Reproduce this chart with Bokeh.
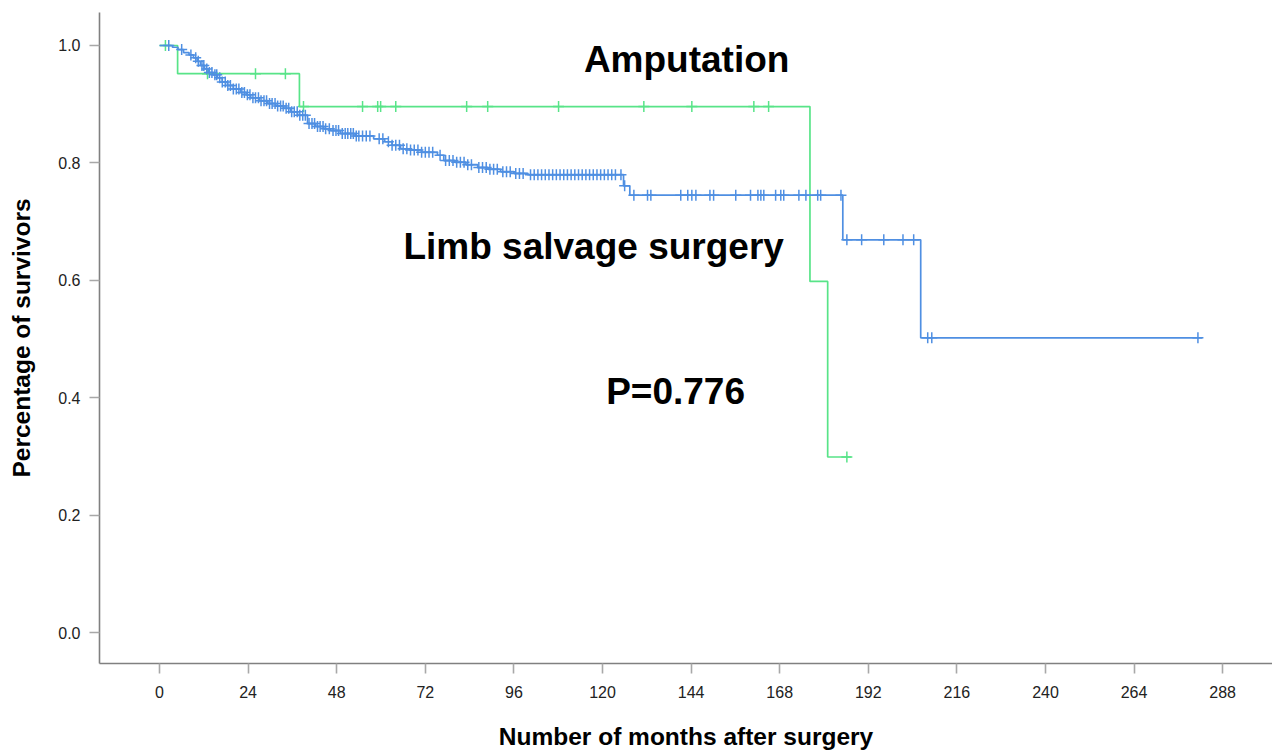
import numpy as np
from bokeh.plotting import figure
from bokeh.models import Range1d, FixedTicker, PrintfTickFormatter, Label
from bokeh.embed import file_html
from bokeh.resources import INLINE

# ---------------- data ----------------
# Limb salvage surgery (blue): step times (months) and survival after each step
limb_times = [0, 3.5, 5, 6.5, 8, 9.2, 10.2, 11.1, 12.2, 13.3, 14.5, 15.7, 17, 18.4, 20, 22,
              23.5, 24.7, 27, 29.3, 31.5, 33.6, 35.5, 37.4, 40.1, 42.3, 44.5, 46.3, 49, 53,
              58, 61, 63, 65.3, 68, 71, 75.3, 77, 80, 83, 86.2, 89, 92.4, 96, 99.7, 125.7,
              127.4, 185.1, 206.2]
limb_surv = [1.0, 0.997, 0.993, 0.988, 0.984, 0.979, 0.973, 0.966, 0.960, 0.954, 0.950,
             0.945, 0.938, 0.932, 0.926, 0.920, 0.916, 0.911, 0.906, 0.901, 0.897, 0.893,
             0.887, 0.881, 0.867, 0.862, 0.858, 0.855, 0.850, 0.846, 0.841, 0.836, 0.830,
             0.824, 0.822, 0.818, 0.813, 0.804, 0.801, 0.797, 0.792, 0.789, 0.785, 0.782,
             0.780, 0.761, 0.745, 0.669, 0.502]
limb_censored = [2.5, 6.0, 8.5, 9.8, 10.5, 11.5, 12.0, 12.8, 13.5, 14.2, 15.0, 15.5, 16.3,
                 17.0, 17.8, 18.5, 19.2, 20.0, 20.8, 21.5, 22.3, 23.0, 23.8, 24.5, 25.3,
                 26.0, 26.8, 27.5, 28.3, 29.0, 29.8, 30.5, 31.3, 32.0, 32.8, 33.5, 34.3,
                 35.0, 35.8, 36.5, 37.3, 38.0, 38.8, 39.5, 40.5, 41.3, 42.0, 42.8, 43.5,
                 44.3, 45.0, 46.0, 47.0, 47.8, 48.5, 49.5, 50.3, 51.0, 51.8, 52.5, 53.3,
                 54.0, 55.0, 56.0, 57.0, 59.5, 60.5, 62.0, 63.0, 64.0, 65.0, 66.0, 67.0,
                 68.0, 69.0, 70.0, 71.0, 72.0, 73.0, 74.0, 76.0, 77.5, 78.5, 79.5, 80.5,
                 81.5, 82.5, 83.5, 84.5, 86.5, 87.5, 88.5, 89.5, 90.5, 91.5, 93.0, 94.0,
                 95.0, 96.5, 97.5, 98.5, 100.5, 101.5, 102.5, 103.5, 104.5, 105.5, 106.5,
                 107.5, 108.5, 109.5, 110.5, 111.5, 112.5, 113.5, 114.5, 115.5, 116.5,
                 117.5, 118.5, 119.5, 120.5, 121.5, 122.5, 123.5, 125.0, 126.0, 128.5,
                 132.2, 133.1, 141.2, 143.1, 144.2, 145.3, 149.1, 150.1, 156.1, 160.1,
                 162.1, 162.9, 163.7, 166.9, 168.3, 169.1, 173.2, 175.1, 178.3, 179.1,
                 184.6, 186.2, 190.2, 196.2, 201.4, 204.3, 208.1, 209.2, 281.3]

# Amputation (green)
amp_times = [0, 4.9, 37.9, 176.2, 181.0]
amp_surv = [1.0, 0.952, 0.896, 0.598, 0.299]
amp_censored = [1.6, 13.0, 26.0, 34.1, 39.0, 55.0, 59.1, 59.9, 64.0, 83.2, 88.9, 108.1,
                131.2, 144.2, 161.0, 165.0, 186.2]

x_ticks = [0, 24, 48, 72, 96, 120, 144, 168, 192, 216, 240, 264, 288]
y_ticks = [0.0, 0.2, 0.4, 0.6, 0.8, 1.0]

BLUE = "#4f8fe2"
GREEN = "#58e488"
FONT = "Liberation Sans"


def surv_at(t, times, surv):
    idx = np.searchsorted(np.asarray(times), t, side="right") - 1
    return [surv[i] for i in idx]


p = figure(width=1272, height=756, output_backend="svg", toolbar_location=None,
           x_range=Range1d(-16.26, 301.5), y_range=Range1d(-0.0528, 1.0562),
           min_border_left=99, min_border_right=0, min_border_top=12, min_border_bottom=93)
p.outline_line_color = None
p.xgrid.visible = False
p.ygrid.visible = False
p.background_fill_color = "white"
p.border_fill_color = "white"

# step curves
for times, surv, cens, col in [(amp_times, amp_surv, amp_censored, GREEN),
                               (limb_times, limb_surv, limb_censored, BLUE)]:
    end_t = max(cens[-1], times[-1]) + 1.2
    xs = list(times) + [end_t]
    ys = list(surv) + [surv[-1]]
    p.step(xs, ys, mode="after", line_color=col, line_width=1.7)
    p.scatter(cens, surv_at(cens, times, surv), marker="cross", size=11,
              line_color=col, line_width=1.5)

# axes
for ax in (p.xaxis[0], p.yaxis[0]):
    ax.axis_line_color = "#808080"
    ax.axis_line_width = 1.6
    ax.major_tick_line_color = "#a8a8a8"
    ax.major_tick_line_width = 1.6
    ax.major_tick_out = 10
    ax.major_tick_in = 0
    ax.minor_tick_line_color = None
    ax.major_label_text_font = FONT
    ax.major_label_text_font_size = "16px"
    ax.major_label_text_color = "#222222"
    ax.axis_label_text_font = FONT
    ax.axis_label_text_font_style = "bold"
    ax.axis_label_text_font_size = "24.5px"
    ax.axis_label_text_color = "black"

p.xaxis.ticker = FixedTicker(ticks=x_ticks)
p.yaxis.ticker = FixedTicker(ticks=y_ticks)
p.yaxis.formatter = PrintfTickFormatter(format="%.1f")
p.xaxis.axis_label = "Number of months after surgery"
p.yaxis.axis_label = "Percentage of survivors"
p.xaxis.major_label_standoff = 12
p.xaxis.axis_label_standoff = 22
p.yaxis.major_label_standoff = 9
p.yaxis.axis_label_standoff = 20

# annotations
for txt, x, y in [("Amputation", 142.8, 0.976),
                  ("Limb salvage surgery", 117.6, 0.657),
                  ("P=0.776", 139.8, 0.410)]:
    p.add_layout(Label(x=x, y=y, text=txt, text_font=FONT, text_font_style="bold",
                       text_font_size="37px", text_align="center",
                       text_baseline="alphabetic", text_color="black"))

open("out.html", "w").write(file_html(p, INLINE))
